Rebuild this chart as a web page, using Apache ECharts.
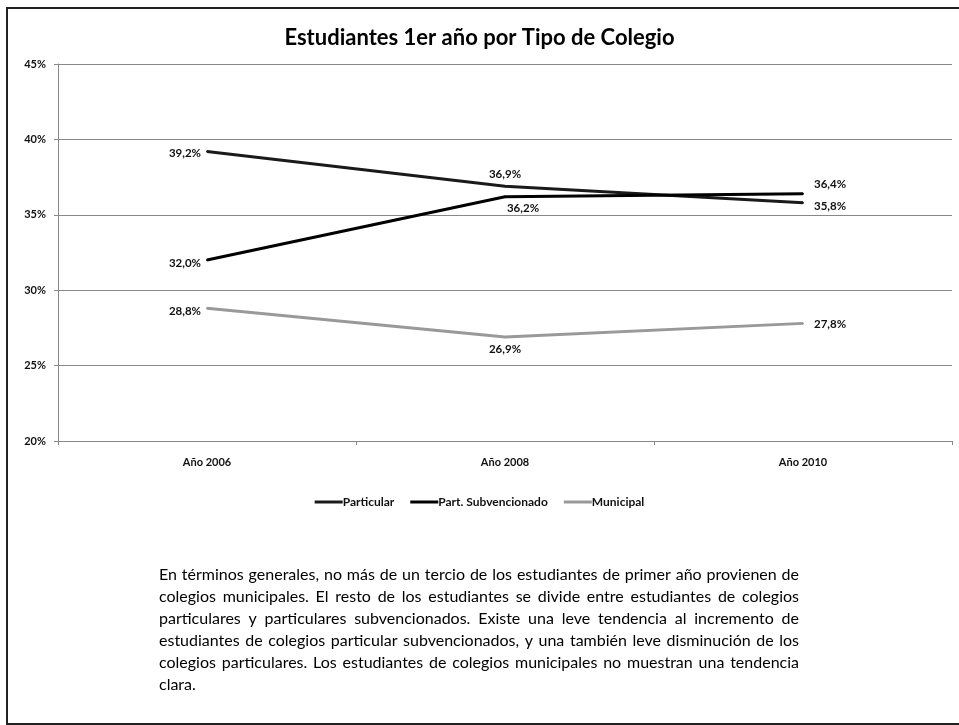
<!DOCTYPE html>
<html>
<head>
<meta charset="utf-8">
<script src="https://cdn.jsdelivr.net/npm/echarts@6/dist/echarts.min.js"></script>
<style>
  html, body { margin: 0; padding: 0; background: #fff; }
  #main { width: 959px; height: 725px; }
</style>
</head>
<body>
<div id="main"></div>
<script>
var years = ['Año 2006', 'Año 2008', 'Año 2010'];
var particular = [39.2, 36.9, 35.8];
var partSubvencionado = [32.0, 36.2, 36.4];
var municipal = [28.8, 26.9, 27.8];
var seriesNames = ['Particular', 'Part. Subvencionado', 'Municipal'];
var parrafo = [
    'En términos generales, no más de un tercio de los estudiantes de primer año provienen de',
    'colegios municipales. El resto de los estudiantes se divide entre estudiantes de colegios',
    'particulares y particulares subvencionados. Existe una leve tendencia al incremento de',
    'estudiantes de colegios particular subvencionados, y una también leve disminución de los',
    'colegios particulares. Los estudiantes de colegios municipales no muestran una tendencia',
    'clara.'
];

// donde va cada etiqueta (posicion y desplazamiento), por serie y punto
var posEtiquetas = [
    [['left', [0, 2]], ['top', [0, 0]], ['right', [5, 4]]],
    [['left', [0, 3]], ['bottom', [18, 0]], ['right', [5, -9]]],
    [['left', [0, 3]], ['bottom', [0, 0]], ['right', [5, 1]]]
];

var FONT = 'Lato, "Open Sans", sans-serif';
var myChart = echarts.init(document.getElementById('main'));

function fmt(v) {
    return v.toFixed(1).replace('.', ',') + '%';
}
function datos(vals, pos) {
    return vals.map(function (v, i) {
        return { value: v, label: { position: pos[i][0], offset: pos[i][1] } };
    });
}

// parrafo justificado: cada palabra como texto, repartiendo el espacio sobrante
var PX = 159, PY = 567, ANCHO = 640, SALTO = 22;
var fuentePar = '16px ' + FONT;
var ctx = document.createElement('canvas').getContext('2d');
ctx.font = fuentePar;
var lineas = [];
parrafo.forEach(function (t, i) {
    var palabras = t.split(' ');
    var ultima = i === parrafo.length - 1;
    var total = 0;
    palabras.forEach(function (w) { total += ctx.measureText(w).width; });
    var hueco = ultima || palabras.length < 2
        ? ctx.measureText(' ').width
        : (ANCHO - total) / (palabras.length - 1);
    var x = PX;
    palabras.forEach(function (w) {
        lineas.push({
            type: 'text',
            x: x,
            y: PY + i * SALTO,
            style: { text: w, font: fuentePar, fill: '#000' }
        });
        x += ctx.measureText(w).width + hueco;
    });
});

var etiqueta = {
    show: true,
    fontFamily: FONT,
    fontWeight: 'bold',
    fontSize: 11.5,
    color: '#111',
    distance: 5,
    formatter: function (p) { return fmt(p.value); }
};

var option = {
    animation: false,
    title: {
        text: 'Estudiantes 1er año por Tipo de Colegio',
        left: 'center',
        top: 22,
        textStyle: { fontFamily: FONT, fontWeight: 'bold', fontSize: 22, color: '#000' }
    },
    grid: { left: 58, right: 7, top: 64, bottom: 284 },
    legend: {
        top: 491,
        left: 'center',
        itemGap: 16,
        itemWidth: 28,
        itemHeight: 3,
        icon: 'rect',
        textStyle: { fontFamily: FONT, fontWeight: 'bold', fontSize: 12, color: '#111', padding: [0, 0, 0, -5] },
        data: seriesNames
    },
    xAxis: {
        type: 'category',
        data: years,
        axisLine: { lineStyle: { color: '#888', width: 1 } },
        axisTick: { show: true, length: 4, lineStyle: { color: '#888' } },
        axisLabel: { fontFamily: FONT, fontWeight: 'bold', fontSize: 11, color: '#111', margin: 16 }
    },
    yAxis: {
        type: 'value',
        min: 20,
        max: 45,
        interval: 5,
        axisLine: { show: true, lineStyle: { color: '#888', width: 1 } },
        axisTick: { show: true, length: 4, lineStyle: { color: '#888' } },
        axisLabel: {
            fontFamily: FONT, fontWeight: 'bold', fontSize: 11, color: '#111', margin: 12,
            formatter: function (v) { return v + '%'; }
        },
        splitLine: { lineStyle: { color: '#888', width: 1 } }
    },
    graphic: [
        {
            type: 'rect',
            shape: { x: 7, y: 8, width: 970, height: 716 },
            style: { fill: 'none', stroke: '#222', lineWidth: 2 }
        }
    ].concat(lineas),
    series: [
        {
            name: seriesNames[0],
            type: 'line',
            symbol: 'circle',
            symbolSize: 2,
            data: datos(particular, posEtiquetas[0]),
            lineStyle: { color: '#1a1a1a', width: 3 },
            itemStyle: { color: '#1a1a1a' },
            label: etiqueta
        },
        {
            name: seriesNames[1],
            type: 'line',
            symbol: 'circle',
            symbolSize: 2,
            data: datos(partSubvencionado, posEtiquetas[1]),
            lineStyle: { color: '#000', width: 3 },
            itemStyle: { color: '#000' },
            label: etiqueta
        },
        {
            name: seriesNames[2],
            type: 'line',
            symbol: 'circle',
            symbolSize: 2,
            data: datos(municipal, posEtiquetas[2]),
            lineStyle: { color: '#999', width: 3 },
            itemStyle: { color: '#999' },
            label: etiqueta
        }
    ]
};
myChart.setOption(option);
</script>
</body>
</html>
